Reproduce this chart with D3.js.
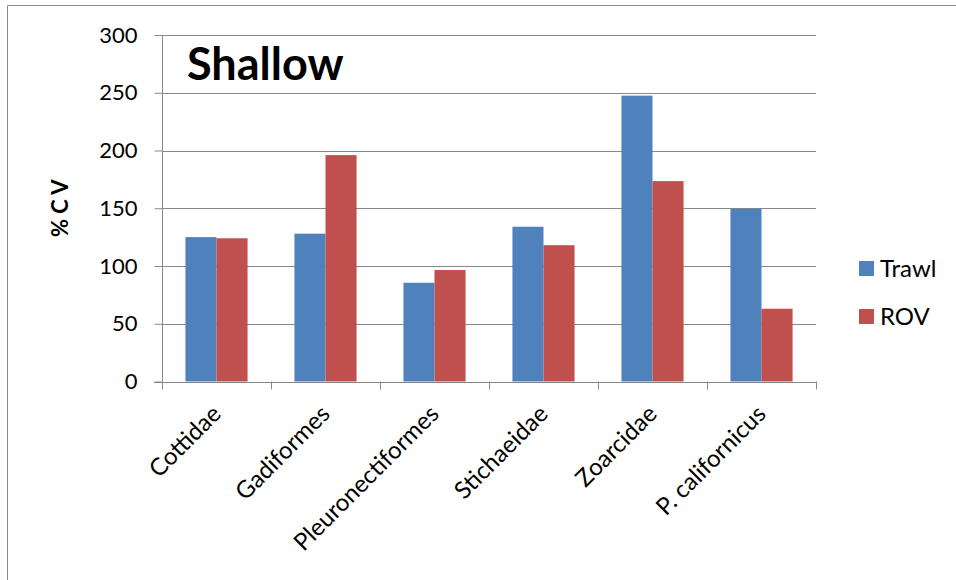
<!DOCTYPE html>
<html>
<head>
<meta charset="utf-8">
<script src="https://cdn.jsdelivr.net/npm/d3@7"></script>
<style>
  body { margin: 0; background: #fff; }
  svg text { font-family: Lato, "Open Sans", sans-serif; fill: #000; }
</style>
</head>
<body>
<svg id="chart" width="956" height="580"></svg>
<script>
// data
var categories = ["Cottidae", "Gadiformes", "Pleuronectiformes", "Stichaeidae", "Zoarcidae", "P. californicus"];
var seriesNames = ["Trawl", "ROV"];
var trawl = [125, 128, 85.5, 134, 247.5, 149.5];
var rov = [124, 196, 96.5, 118, 173.5, 63];
var yTicks = [0, 50, 100, 150, 200, 250, 300];
var colors = ["#4F81BD", "#C0504D"];

var svg = d3.select("#chart");
var plotL = 162, plotR = 816, plotT = 35, plotB = 381.5;

// outer chart frame (only top and left edges fall inside the picture)
svg.append("path")
    .attr("d", "M7.5,600V5.5H960")
    .attr("fill", "none")
    .attr("stroke", "#8a8a8a")
    .attr("stroke-width", 1);

var x0 = d3.scaleBand().domain(categories).range([plotL, plotR]).padding(0);
var x1 = d3.scaleBand().domain(seriesNames)
    .range([x0.bandwidth() * 0.215, x0.bandwidth() * 0.785]).padding(0);
var y = d3.scaleLinear().domain([0, 300]).range([plotB, plotT]);

// gridlines
svg.append("g").selectAll("line")
    .data(yTicks.filter(function (d) { return d > 0; }))
    .enter().append("line")
    .attr("x1", plotL).attr("x2", plotR)
    .attr("y1", function (d) { return Math.round(y(d)) + 0.5; })
    .attr("y2", function (d) { return Math.round(y(d)) + 0.5; })
    .attr("stroke", "#888").attr("stroke-width", 1);

// bars
var rows = categories.map(function (c, i) {
    return { cat: c, vals: [trawl[i], rov[i]] };
});
var group = svg.append("g").selectAll("g")
    .data(rows)
    .enter().append("g")
    .attr("transform", function (d) { return "translate(" + x0(d.cat) + ",0)"; });
group.selectAll("rect")
    .data(function (d) { return d.vals.map(function (v, j) { return { s: seriesNames[j], v: v, j: j }; }); })
    .enter().append("rect")
    .attr("x", function (d) { return x1(d.s); })
    .attr("width", x1.bandwidth())
    .attr("y", function (d) { return y(d.v); })
    .attr("height", function (d) { return plotB - y(d.v); })
    .attr("fill", function (d) { return colors[d.j]; });

// y axis
var yAxis = d3.axisLeft(y).tickValues(yTicks).tickSize(8).tickPadding(17);
var gy = svg.append("g").attr("transform", "translate(" + (plotL + 0.5) + ",0)").call(yAxis);
gy.selectAll("line,path").attr("stroke", "#888");
gy.select(".domain").attr("d", "M0," + plotT + "V" + plotB);
gy.selectAll("text").attr("font-size", 22).attr("font-family", "Lato, sans-serif").attr("fill", "#000");

// x axis line with ticks at category boundaries
var bounds = [plotL].concat(categories.map(function (c) { return x0(c) + x0.bandwidth(); }));
var gx = svg.append("g");
gx.append("line")
    .attr("x1", plotL - 8).attr("x2", plotR + 1)
    .attr("y1", Math.round(plotB) + 0.5).attr("y2", Math.round(plotB) + 0.5)
    .attr("stroke", "#888");
gx.selectAll(".tk").data(bounds).enter().append("line")
    .attr("x1", function (d) { return Math.round(d) + 0.5; })
    .attr("x2", function (d) { return Math.round(d) + 0.5; })
    .attr("y1", plotB).attr("y2", plotB + 8)
    .attr("stroke", "#888");
gx.selectAll("text").data(categories).enter().append("text")
    .attr("transform", function (d) {
        return "translate(" + (x0(d) + x0.bandwidth() / 2 - 6) + "," + (plotB + 22) + ") rotate(-45)";
    })
    .attr("text-anchor", "end")
    .attr("dy", "0.7em")
    .attr("font-size", 24)
    .text(function (d) { return d; });

// y axis title
svg.append("text")
    .attr("transform", "translate(68," + ((plotT + plotB) / 2) + ") rotate(-90)")
    .attr("text-anchor", "middle")
    .attr("font-size", 22)
    .attr("font-weight", "bold")
    .text("% C V");

// chart title inside plot
svg.append("text")
    .attr("x", 187).attr("y", 80)
    .attr("font-size", 45)
    .attr("font-weight", "bold")
    .text("Shallow");

// legend
var legend = svg.append("g").selectAll("g")
    .data(seriesNames)
    .enter().append("g")
    .attr("transform", function (d, i) { return "translate(859," + (261 + i * 48) + ")"; });
legend.append("rect")
    .attr("width", 15).attr("height", 15)
    .attr("fill", function (d, i) { return colors[i]; });
legend.append("text")
    .attr("x", 21).attr("y", 16)
    .attr("font-size", 24)
    .text(function (d) { return d; });
</script>
</body>
</html>
